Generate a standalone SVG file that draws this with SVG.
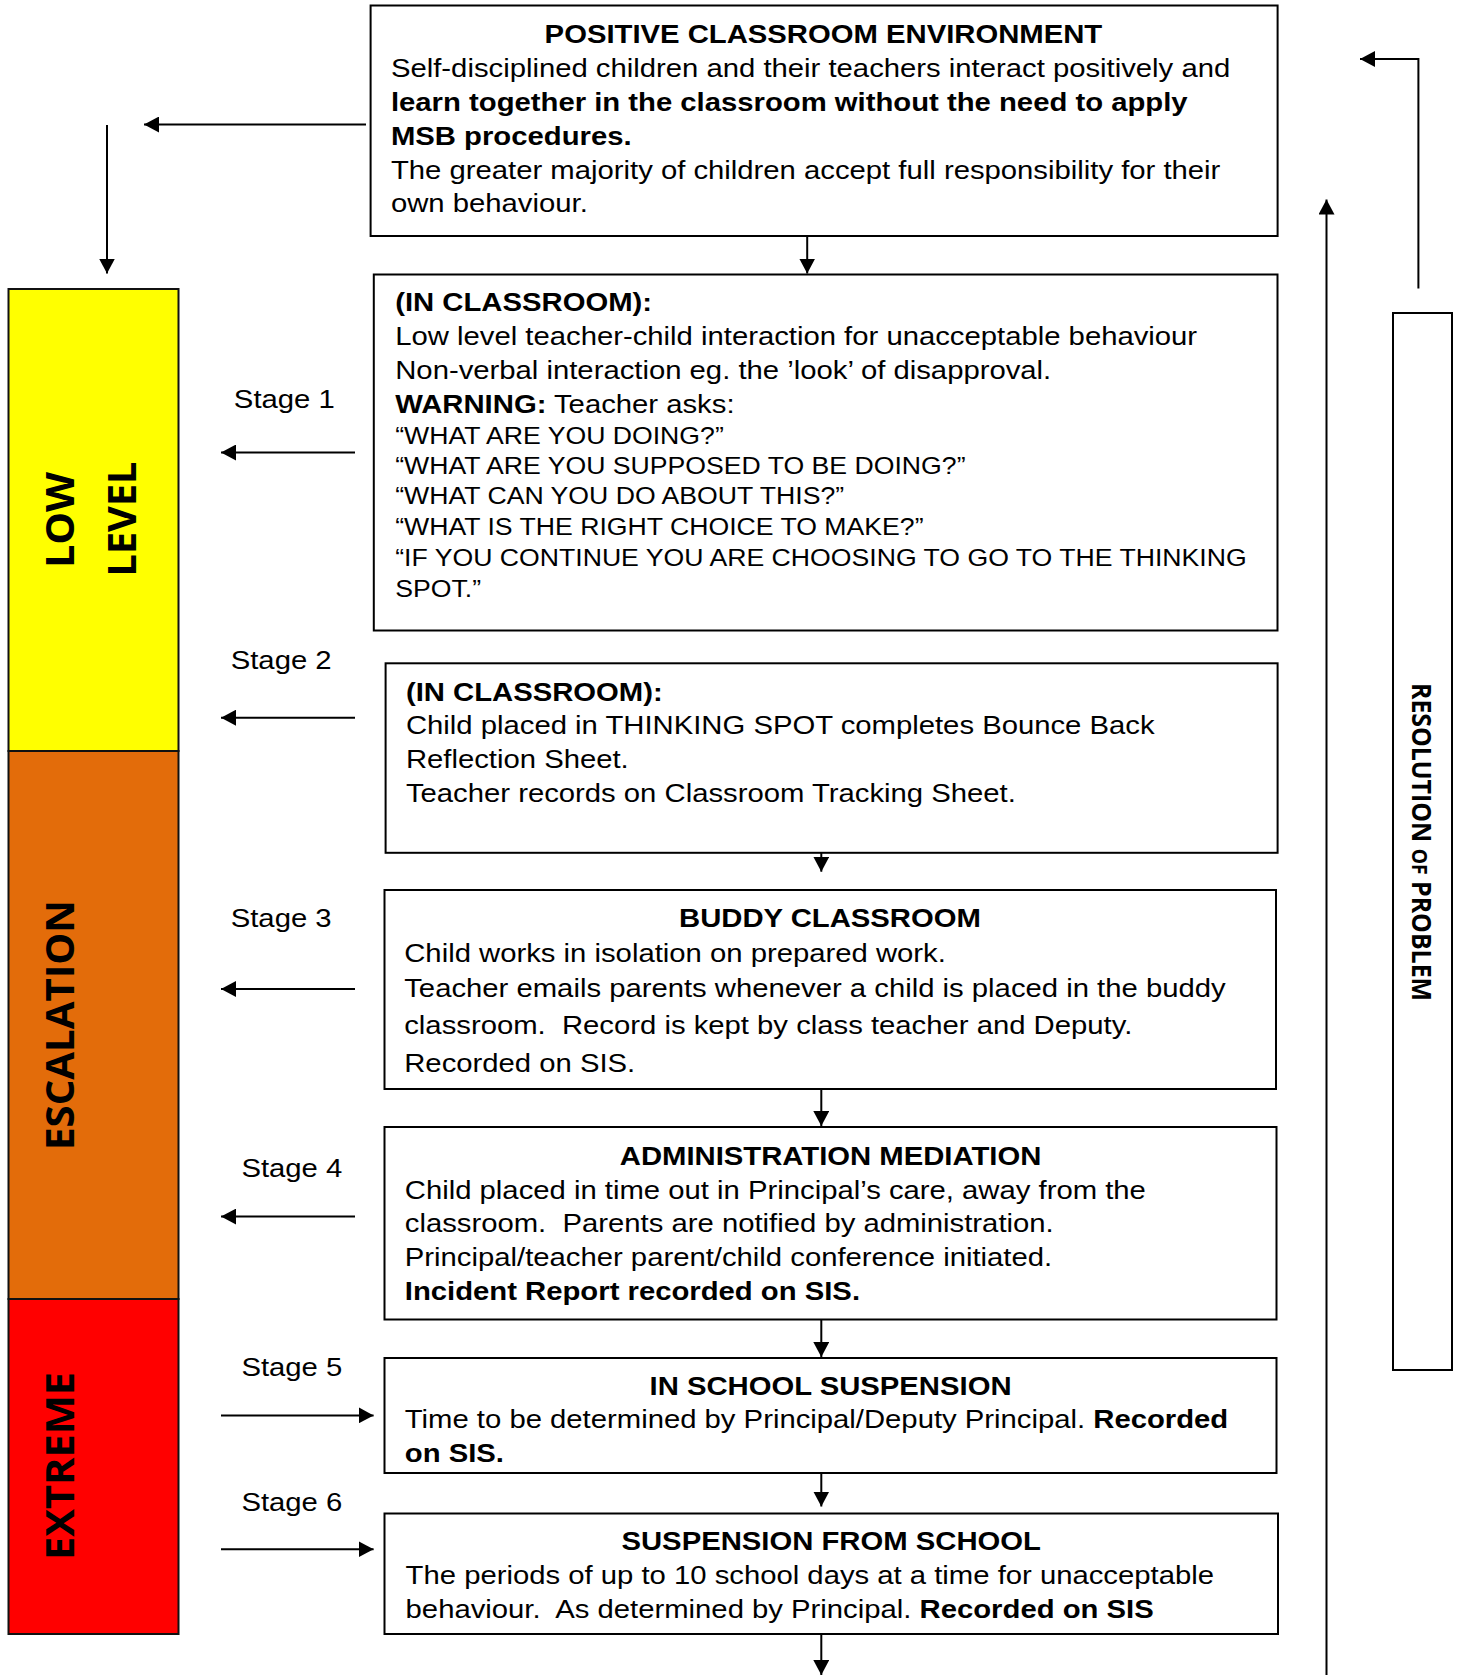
<svg xmlns="http://www.w3.org/2000/svg" width="1459" height="1675" viewBox="0 0 1459 1675">
<style>
.t{font-family:"Liberation Sans",Arial,sans-serif;font-size:26px;fill:#000}
.b{font-weight:bold}
.q{font-size:23.66px}
.c{text-anchor:middle}
.box{fill:#fff;stroke:#000;stroke-width:2}
.ln{stroke:#000;stroke-width:2;fill:none}
.bar{stroke:#111;stroke-width:2}
.lab{font-family:"Open Sans","DejaVu Sans",sans-serif;font-weight:bold;font-size:40px;fill:#000;text-anchor:middle}
.res{font-family:"Open Sans","DejaVu Sans",sans-serif;font-weight:bold;font-size:27px;fill:#000;text-anchor:middle}
</style>
<defs>
<marker id="ah" viewBox="0 0 15 16" refX="15" refY="8" markerWidth="15" markerHeight="16" markerUnits="userSpaceOnUse" orient="auto"><path d="M0,0 L15,8 L0,16 z" fill="#000"/></marker>
</defs>
<rect width="1459" height="1675" fill="#fff"/>

<g id="level-bar">
<rect class="bar" x="8.5" y="289" width="170" height="462" fill="#FFFF00"/>
<rect class="bar" x="8.5" y="751" width="170" height="548" fill="#E36C0A"/>
<rect class="bar" x="8.5" y="1299" width="170" height="335" fill="#FF0000"/>
<text class="lab" transform="translate(74,520) rotate(-90)" textLength="96" lengthAdjust="spacingAndGlyphs">LOW</text>
<text class="lab" transform="translate(135.5,519) rotate(-90)" textLength="115" lengthAdjust="spacingAndGlyphs">LEVEL</text>
<text class="lab" transform="translate(74,1025) rotate(-90)" textLength="250" lengthAdjust="spacingAndGlyphs">ESCALATION</text>
<text class="lab" transform="translate(74,1466) rotate(-90)" textLength="188" lengthAdjust="spacingAndGlyphs">EXTREME</text>
</g>

<g id="stage-labels">
<g transform="scale(1.126 1)">
<text class="t" x="207.7" y="408">Stage 1</text>
<text class="t" x="204.9" y="669">Stage 2</text>
<text class="t" x="204.9" y="927">Stage 3</text>
<text class="t" x="214.4" y="1177">Stage 4</text>
<text class="t" x="214.4" y="1376">Stage 5</text>
<text class="t" x="214.4" y="1511">Stage 6</text>
</g>
</g>

<g id="positive-environment">
<rect class="box" x="370.6" y="5.5" width="907" height="230.5"/>
<g transform="scale(1.126 1)">
<text class="t b c" x="731.3" y="43">POSITIVE CLASSROOM ENVIRONMENT</text>
<text class="t" x="347.2" y="77">Self-disciplined children and their teachers interact positively and</text>
<text class="t b" x="347.2" y="111">learn together in the classroom without the need to apply</text>
<text class="t b" x="347.2" y="145">MSB procedures.</text>
<text class="t" x="347.2" y="179.5">The greater majority of children accept full responsibility for their</text>
<text class="t" x="347.2" y="212">own behaviour.</text>
</g>
</g>

<g id="stage1-classroom">
<rect class="box" x="373.8" y="274.5" width="903.7" height="356"/>
<g transform="scale(1.126 1)">
<text class="t b" x="351" y="311">(IN CLASSROOM):</text>
<text class="t" x="351" y="345">Low level teacher-child interaction for unacceptable behaviour</text>
<text class="t" x="351" y="379">Non-verbal interaction eg. the ’look’ of disapproval.</text>
<text class="t" x="351" y="413"><tspan class="b">WARNING:</tspan> Teacher asks:</text>
<text class="t q" x="351" y="444">“WHAT ARE YOU DOING?”</text>
<text class="t q" x="351" y="474.5">“WHAT ARE YOU SUPPOSED TO BE DOING?”</text>
<text class="t q" x="351" y="504.5">“WHAT CAN YOU DO ABOUT THIS?”</text>
<text class="t q" x="351" y="535.5">“WHAT IS THE RIGHT CHOICE TO MAKE?”</text>
<text class="t q" x="351" y="566.5">“IF YOU CONTINUE YOU ARE CHOOSING TO GO TO THE THINKING</text>
<text class="t q" x="351" y="597.5">SPOT.”</text>
</g>
</g>

<g id="stage2-thinking-spot">
<rect class="box" x="385.6" y="663.3" width="892" height="189.5"/>
<g transform="scale(1.126 1)">
<text class="t b" x="360.5" y="701">(IN CLASSROOM):</text>
<text class="t" x="360.5" y="734.5">Child placed in THINKING SPOT completes Bounce Back</text>
<text class="t" x="360.5" y="768.5">Reflection Sheet.</text>
<text class="t" x="360.5" y="802.5">Teacher records on Classroom Tracking Sheet.</text>
</g>
</g>

<g id="stage3-buddy">
<rect class="box" x="384.5" y="890" width="891.5" height="199"/>
<g transform="scale(1.126 1)">
<text class="t b c" x="737.1" y="927.5">BUDDY CLASSROOM</text>
<text class="t" x="359" y="962">Child works in isolation on prepared work.</text>
<text class="t" x="359" y="997">Teacher emails parents whenever a child is placed in the buddy</text>
<text class="t" x="359" y="1034.5">classroom.&#160; Record is kept by class teacher and Deputy.</text>
<text class="t" x="359" y="1072">Recorded on SIS.</text>
</g>
</g>

<g id="stage4-admin">
<rect class="box" x="384.5" y="1127" width="892" height="192.5"/>
<g transform="scale(1.126 1)">
<text class="t b c" x="737.6" y="1165.5">ADMINISTRATION MEDIATION</text>
<text class="t" x="359.5" y="1199">Child placed in time out in Principal’s care, away from the</text>
<text class="t" x="359.5" y="1232.5">classroom.&#160; Parents are notified by administration.</text>
<text class="t" x="359.5" y="1266">Principal/teacher parent/child conference initiated.</text>
<text class="t b" x="359.5" y="1300">Incident Report recorded on SIS.</text>
</g>
</g>

<g id="stage5-in-school">
<rect class="box" x="384.5" y="1358" width="892" height="115"/>
<g transform="scale(1.126 1)">
<text class="t b c" x="737.6" y="1395.5">IN SCHOOL SUSPENSION</text>
<text class="t" x="359.5" y="1428.5">Time to be determined by Principal/Deputy Principal. <tspan class="b">Recorded</tspan></text>
<text class="t b" x="359.5" y="1462.5">on SIS.</text>
</g>
</g>

<g id="stage6-suspension">
<rect class="box" x="384.5" y="1513.5" width="893.5" height="120.5"/>
<g transform="scale(1.126 1)">
<text class="t b c" x="738.2" y="1550.5">SUSPENSION FROM SCHOOL</text>
<text class="t" x="360.2" y="1584">The periods of up to 10 school days at a time for unacceptable</text>
<text class="t" x="360.2" y="1618">behaviour.&#160; As determined by Principal. <tspan class="b">Recorded on SIS</tspan></text>
</g>
</g>

<g id="resolution">
<rect class="box" x="1393" y="313" width="59" height="1057"/>
<text class="res" transform="translate(1412,842) rotate(90)" textLength="318" lengthAdjust="spacingAndGlyphs">RESOLUTION <tspan font-size="21">OF</tspan> PROBLEM</text>
</g>

<g id="connectors">
<line class="ln" x1="366" y1="124.5" x2="144" y2="124.5" marker-end="url(#ah)"/>
<line class="ln" x1="107" y1="125" x2="107" y2="273.5" marker-end="url(#ah)"/>
<line class="ln" x1="807.2" y1="236.5" x2="807.2" y2="273.5" marker-end="url(#ah)"/>
<line class="ln" x1="821.3" y1="853" x2="821.3" y2="871.7" marker-end="url(#ah)"/>
<line class="ln" x1="821.3" y1="1089" x2="821.3" y2="1126" marker-end="url(#ah)"/>
<line class="ln" x1="821.3" y1="1319.5" x2="821.3" y2="1357" marker-end="url(#ah)"/>
<line class="ln" x1="821.3" y1="1473" x2="821.3" y2="1506.5" marker-end="url(#ah)"/>
<line class="ln" x1="821.3" y1="1634" x2="821.3" y2="1675" marker-end="url(#ah)"/>
<line class="ln" x1="355" y1="452.5" x2="221" y2="452.5" marker-end="url(#ah)"/>
<line class="ln" x1="355" y1="717.7" x2="221" y2="717.7" marker-end="url(#ah)"/>
<line class="ln" x1="355" y1="989" x2="221" y2="989" marker-end="url(#ah)"/>
<line class="ln" x1="355" y1="1216.6" x2="221" y2="1216.6" marker-end="url(#ah)"/>
<line class="ln" x1="221" y1="1415.4" x2="373.6" y2="1415.4" marker-end="url(#ah)"/>
<line class="ln" x1="221" y1="1549.2" x2="373.6" y2="1549.2" marker-end="url(#ah)"/>
<line class="ln" x1="1326.5" y1="1675" x2="1326.5" y2="199.5" marker-end="url(#ah)"/>
<polyline class="ln" points="1418.4,288.5 1418.4,59 1360,59" marker-end="url(#ah)"/>
</g>
</svg>
